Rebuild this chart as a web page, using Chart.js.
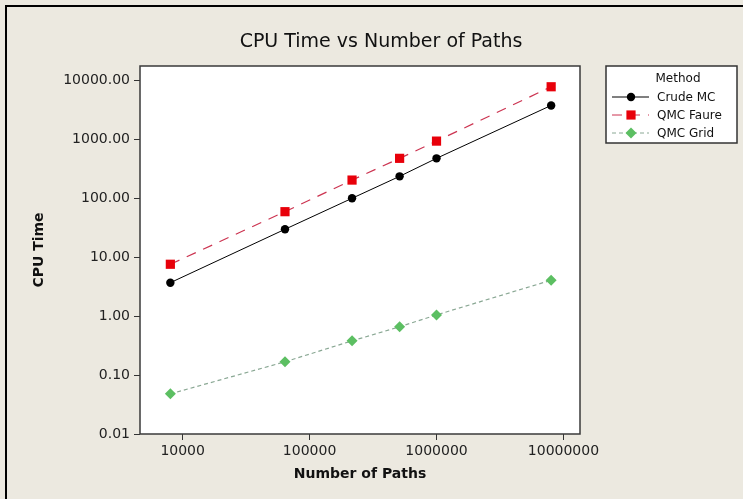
<!DOCTYPE html>
<html>
<head>
<meta charset="utf-8">
<title>CPU Time vs Number of Paths</title>
<script src="https://cdn.jsdelivr.net/npm/chart.js"></script>
<style>
  body { margin: 0; background: #ece9e0; }
  #wrap { width: 743px; height: 499px; }
</style>
</head>
<body>
<div id="wrap"><canvas id="cpu-chart" width="743" height="499"></canvas></div>
<script>
// Number of paths (20^3 ... 200^3) and CPU time per method
const paths = [8000, 64000, 216000, 512000, 1000000, 8000000];
const crudeMC = [3.7, 29.8, 100, 236, 477, 3770];
const qmcFaure = [7.6, 59.3, 204, 477, 935, 7820];
const qmcGrid = [0.048, 0.168, 0.381, 0.66, 1.05, 4.07];

const xTicks = [10000, 100000, 1000000, 10000000];
const yTicks = [0.01, 0.1, 1, 10, 100, 1000, 10000];

const chartTitle = "CPU Time vs Number of Paths";

const toPoints = (ys) => ys.map((y, i) => ({ x: paths[i], y: y }));

// background, outer frame, title, white plot region and its border
const frame = {
  id: "frame",
  beforeDraw(chart) {
    const { ctx, chartArea: a } = chart;
    ctx.save();
    ctx.fillStyle = "#ece9e0";
    ctx.fillRect(0, 0, chart.width, chart.height);
    ctx.strokeStyle = "#000";
    ctx.lineWidth = 2;
    ctx.beginPath();
    ctx.moveTo(6, chart.height);
    ctx.lineTo(6, 6);
    ctx.lineTo(chart.width, 6);
    ctx.stroke();
    ctx.fillStyle = "#111";
    ctx.font = "19px 'DejaVu Sans'";
    ctx.textAlign = "center";
    ctx.textBaseline = "middle";
    ctx.fillText(chartTitle, 381, 42);
    ctx.fillStyle = "#fff";
    ctx.fillRect(a.left, a.top, a.right - a.left, a.bottom - a.top);
    ctx.restore();
  },
  afterDatasetsDraw(chart) {
    const { ctx, chartArea: a } = chart;
    ctx.save();
    ctx.strokeStyle = "#3a3a3a";
    ctx.lineWidth = 1.5;
    ctx.strokeRect(a.left, a.top, a.right - a.left, a.bottom - a.top);
    ctx.restore();
  },
};

function marker(ctx, style, r, x, y) {
  ctx.beginPath();
  if (style === "circle") {
    ctx.arc(x, y, r, 0, Math.PI * 2);
  } else if (style === "rect") {
    const s = r * Math.SQRT1_2;
    ctx.rect(x - s, y - s, 2 * s, 2 * s);
  } else {
    ctx.moveTo(x, y - r);
    ctx.lineTo(x + r, y);
    ctx.lineTo(x, y + r);
    ctx.lineTo(x - r, y);
    ctx.closePath();
  }
  ctx.fill();
}

// boxed legend on the right
const methodLegend = {
  id: "methodLegend",
  afterDraw(chart) {
    const ctx = chart.ctx;
    const bx = 606, by = 66, bw = 131, bh = 77;
    ctx.save();
    ctx.fillStyle = "#fff";
    ctx.fillRect(bx, by, bw, bh);
    ctx.strokeStyle = "#333";
    ctx.lineWidth = 1.5;
    ctx.strokeRect(bx, by, bw, bh);
    ctx.font = "12px 'DejaVu Sans'";
    ctx.fillStyle = "#111";
    ctx.textBaseline = "middle";
    ctx.textAlign = "center";
    ctx.fillText("Method", 678, 79);
    ctx.textAlign = "left";
    chart.data.datasets.forEach((ds, i) => {
      const y = 97 + i * 18;
      ctx.strokeStyle = ds.borderColor;
      ctx.lineWidth = 1;
      ctx.setLineDash(ds.borderDash || []);
      ctx.beginPath();
      ctx.moveTo(612, y);
      ctx.lineTo(649, y);
      ctx.stroke();
      ctx.setLineDash([]);
      ctx.fillStyle = ds.pointBackgroundColor;
      marker(ctx, ds.pointStyle, ds.pointRadius, 631, y);
      ctx.fillStyle = "#111";
      ctx.fillText(ds.label, 657, y + 1);
    });
    ctx.restore();
  },
};

new Chart(document.getElementById("cpu-chart"), {
  type: "line",
  data: {
    datasets: [
      {
        label: "Crude MC",
        data: toPoints(crudeMC),
        borderColor: "#000",
        borderWidth: 1,
        pointStyle: "circle",
        pointRadius: 4.2,
        pointBackgroundColor: "#000",
        pointBorderWidth: 0,
      },
      {
        label: "QMC Faure",
        data: toPoints(qmcFaure),
        borderColor: "#cc3350",
        borderWidth: 1.2,
        borderDash: [10, 8],
        pointStyle: "rect",
        pointRadius: 6.5,
        pointBackgroundColor: "#e8000a",
        pointBorderWidth: 0,
      },
      {
        label: "QMC Grid",
        data: toPoints(qmcGrid),
        borderColor: "#8aa894",
        borderWidth: 1.2,
        borderDash: [4, 3],
        pointStyle: "rectRot",
        pointRadius: 5.5,
        pointBackgroundColor: "#5cbf62",
        pointBorderWidth: 0,
      },
    ],
  },
  options: {
    responsive: false,
    animation: false,
    layout: { padding: { top: 66, right: 163, bottom: 0, left: 0 } },
    plugins: {
      legend: { display: false },
      tooltip: { enabled: false },
      title: { display: false },
    },
    scales: {
      x: {
        type: "logarithmic",
        position: "bottom",
        min: 4613,
        max: 13500000,
        afterFit: (s) => { s.height = 65; },
        afterBuildTicks: (s) => { s.ticks = xTicks.map((v) => ({ value: v })); },
        ticks: {
          autoSkip: false,
          maxRotation: 0,
          padding: 3,
          color: "#222",
          font: { family: "'DejaVu Sans'", size: 14 },
          callback: (v) => String(v),
        },
        grid: { drawOnChartArea: false, drawTicks: true, tickLength: 6, color: "#333" },
        border: { display: false },
        title: {
          display: true,
          text: "Number of Paths",
          color: "#111",
          font: { family: "'DejaVu Sans'", size: 14, weight: "bold" },
          padding: { top: 0, bottom: 16.6 },
        },
      },
      y: {
        type: "logarithmic",
        position: "left",
        min: 0.01,
        max: 17600,
        afterFit: (s) => { s.width = 140; },
        afterBuildTicks: (s) => { s.ticks = yTicks.map((v) => ({ value: v })); },
        ticks: {
          autoSkip: false,
          padding: 4,
          color: "#222",
          font: { family: "'DejaVu Sans'", size: 14 },
          callback: (v) => Number(v).toFixed(2),
        },
        grid: { drawOnChartArea: false, drawTicks: true, tickLength: 6, color: "#333" },
        border: { display: false },
        title: {
          display: true,
          text: "CPU Time",
          color: "#111",
          font: { family: "'DejaVu Sans'", size: 14, weight: "bold" },
          padding: { top: 30.6, bottom: 0 },
        },
      },
    },
  },
  plugins: [frame, methodLegend],
});
</script>
</body>
</html>
